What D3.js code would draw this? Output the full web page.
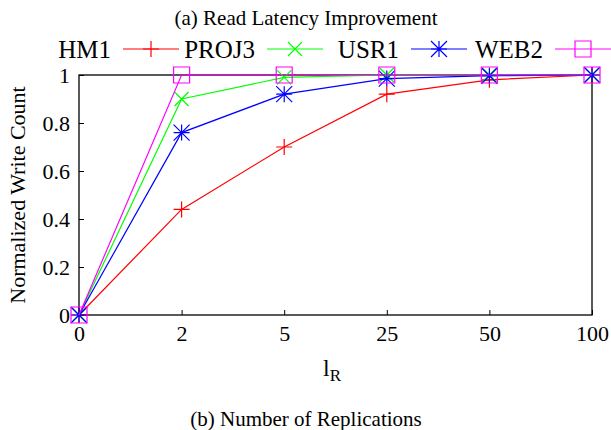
<!DOCTYPE html>
<html>
<head>
<meta charset="utf-8">
<script src="https://cdn.jsdelivr.net/npm/d3@7"></script>
<style>
  html, body { margin: 0; padding: 0; background: #fff; }
  svg { display: block; }
</style>
</head>
<body>
<svg id="chart" width="611" height="430"></svg>
<script>
// Replication counts (evenly spaced categories on the x axis)
const categories = ["0", "2", "5", "25", "50", "100"];
const yTicks = [0, 0.2, 0.4, 0.6, 0.8, 1];

// Normalized write count per trace
const hm1   = [0, 0.44, 0.70, 0.92, 0.98, 1.0];
const proj3 = [0, 0.90, 0.99, 1.0, 1.0, 1.0];
const usr1  = [0, 0.76, 0.92, 0.985, 0.997, 1.0];
const web2  = [0, 1.0, 1.0, 1.0, 1.0, 1.0];

const seriesNames  = ["HM1", "PROJ3", "USR1", "WEB2"];
const seriesColors = ["#ff0000", "#00ff00", "#0000ff", "#ff00ff"];
const seriesShapes = ["plus", "cross", "star", "square"];
const seriesValues = [hm1, proj3, usr1, web2];

const serif = '"Liberation Serif"';
const svg = d3.select("#chart");
const plot = { left: 79, right: 592, top: 75, bottom: 315 };

const x = d3.scalePoint().domain(categories).range([plot.left, plot.right]);
const y = d3.scaleLinear().domain([0, 1]).range([plot.bottom, plot.top]);

// Marker glyphs drawn as paths centred on (0,0)
function markerPath(shape, r) {
  const p = d3.path();
  if (shape === "plus") {
    p.moveTo(-r, 0); p.lineTo(r, 0);
    p.moveTo(0, -r); p.lineTo(0, r);
  } else if (shape === "cross") {
    p.moveTo(-r, -r); p.lineTo(r, r);
    p.moveTo(-r, r); p.lineTo(r, -r);
  } else if (shape === "star") {
    p.moveTo(-r, 0); p.lineTo(r, 0);
    p.moveTo(0, -r); p.lineTo(0, r);
    p.moveTo(-r, -r); p.lineTo(r, r);
    p.moveTo(-r, r); p.lineTo(r, -r);
  } else if (shape === "square") {
    p.rect(-r, -r, 2 * r, 2 * r);
  }
  return p.toString();
}
const markerSize = { plus: 8, cross: 7, star: 8, square: 8 };

function label(sel, size) {
  return sel.style("font-family", serif).style("font-size", size + "px").attr("fill", "#000");
}

// Titles
label(svg.append("text"), 21)
  .attr("x", 306).attr("y", 25)
  .attr("text-anchor", "middle")
  .text("(a) Read Latency Improvement");

label(svg.append("text"), 21)
  .attr("x", 306).attr("y", 426)
  .attr("text-anchor", "middle")
  .text("(b) Number of Replications");

// Axes with inward ticks
const xAxis = d3.axisBottom(x).tickSize(-5).tickPadding(10);
const gx = svg.append("g")
  .attr("transform", `translate(0,${plot.bottom})`)
  .call(xAxis);
gx.select(".domain").remove();
gx.selectAll(".tick line").attr("stroke", "#000");
label(gx.selectAll(".tick text"), 22);

const yAxis = d3.axisLeft(y).tickValues(yTicks).tickFormat(d3.format("")).tickSize(-5).tickPadding(9);
const gy = svg.append("g")
  .attr("transform", `translate(${plot.left},0)`)
  .call(yAxis);
gy.select(".domain").remove();
gy.selectAll(".tick line").attr("stroke", "#000");
label(gy.selectAll(".tick text"), 22);

// Plot frame
svg.append("rect")
  .attr("x", plot.left).attr("y", plot.top)
  .attr("width", plot.right - plot.left)
  .attr("height", plot.bottom - plot.top)
  .attr("fill", "none")
  .attr("stroke", "#000")
  .attr("stroke-width", 1.3);

// Axis titles
label(svg.append("text"), 22)
  .attr("transform", `translate(25,${(plot.top + plot.bottom) / 2}) rotate(-90)`)
  .attr("text-anchor", "middle")
  .text("Normalized Write Count");

const xl = label(svg.append("text"), 24)
  .attr("x", 332).attr("y", 376)
  .attr("text-anchor", "middle");
xl.append("tspan").text("l");
xl.append("tspan").attr("dy", 5).style("font-size", "17px").text("R");

// Series lines and markers
const line = d3.line()
  .x((d, i) => x(categories[i]))
  .y(d => y(d));

seriesValues.forEach((vals, k) => {
  const g = svg.append("g");
  g.append("path")
    .datum(vals)
    .attr("d", line)
    .attr("fill", "none")
    .attr("stroke", seriesColors[k])
    .attr("stroke-width", 1.2);
  g.selectAll("path.m")
    .data(vals)
    .join("path")
    .attr("class", "m")
    .attr("transform", (d, i) => `translate(${x(categories[i])},${y(d)})`)
    .attr("d", markerPath(seriesShapes[k], markerSize[seriesShapes[k]]))
    .attr("fill", "none")
    .attr("stroke", seriesColors[k])
    .attr("stroke-width", 1.2);
});

// Legend: label, then line sample with marker
const legendY = 49;
const sampleStart = [123, 267, 411, 555];
const sampleLen = 56;
seriesNames.forEach((name, k) => {
  const g = svg.append("g");
  label(g.append("text"), 25)
    .attr("x", sampleStart[k] - 12)
    .attr("y", legendY + 9)
    .attr("text-anchor", "end")
    .text(name);
  g.append("line")
    .attr("x1", sampleStart[k]).attr("x2", sampleStart[k] + sampleLen)
    .attr("y1", legendY).attr("y2", legendY)
    .attr("stroke", seriesColors[k])
    .attr("stroke-width", 1.2);
  g.append("path")
    .attr("transform", `translate(${sampleStart[k] + sampleLen / 2},${legendY})`)
    .attr("d", markerPath(seriesShapes[k], markerSize[seriesShapes[k]]))
    .attr("fill", "none")
    .attr("stroke", seriesColors[k])
    .attr("stroke-width", 1.2);
});
</script>
</body>
</html>
